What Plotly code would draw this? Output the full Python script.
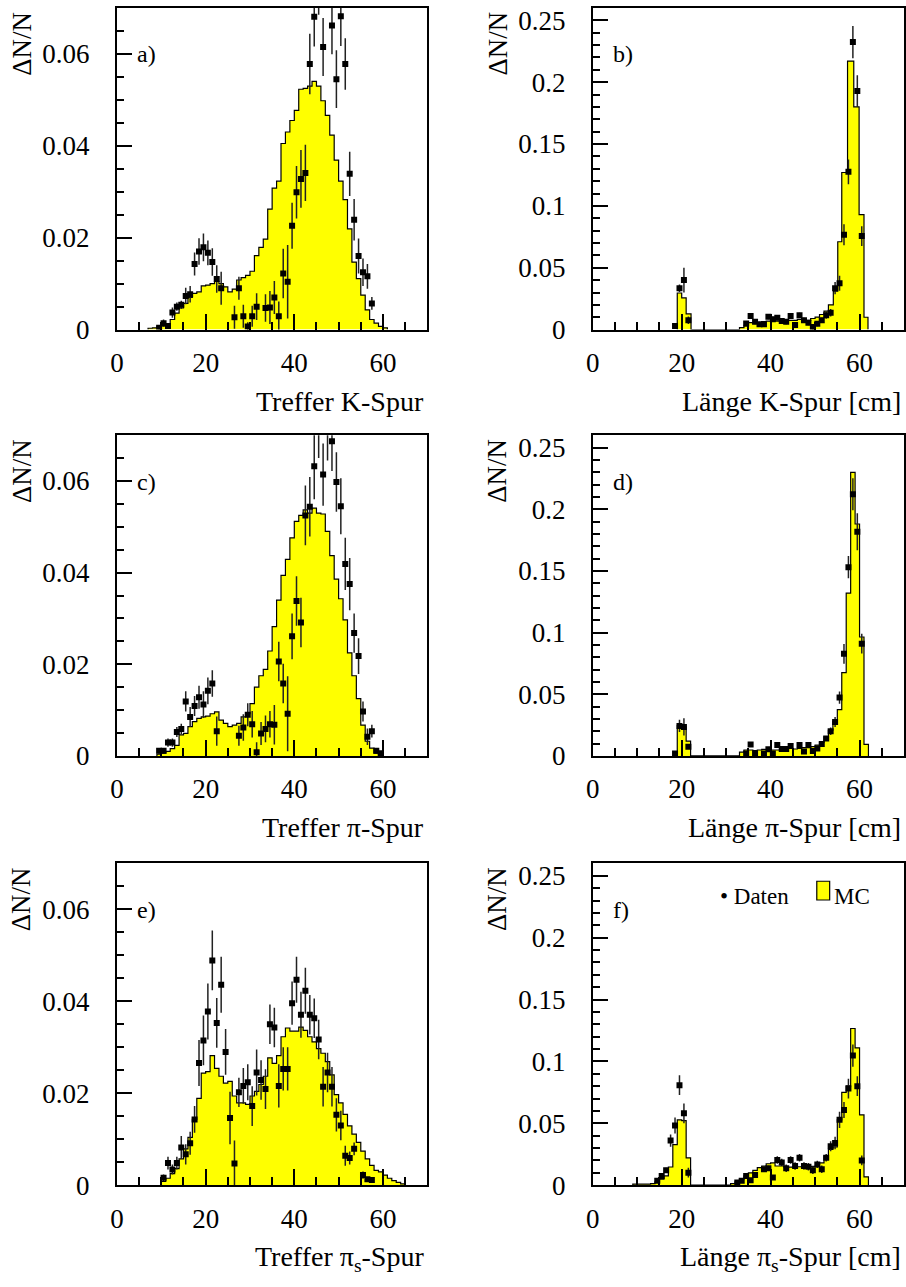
import numpy as np
import plotly.graph_objects as go

# ---------------- data ----------------
# a) Treffer K-Spur
a_mc_start = 7
a_mc = [0.0003, 0.0004, 0.0006, 0.0008, 0.0011, 0.0022, 0.0036, 0.0047, 0.0057, 0.0070,
        0.0079, 0.0082, 0.0095, 0.0097, 0.0100, 0.0105, 0.0100, 0.0093, 0.0082, 0.0088,
        0.0108, 0.0113, 0.0118, 0.0127, 0.0161, 0.0179, 0.0197, 0.0262, 0.0308, 0.0323,
        0.0405, 0.0430, 0.0455, 0.0477, 0.0523, 0.0525, 0.0530, 0.0540, 0.0530, 0.0498,
        0.0466, 0.0423, 0.0369, 0.0323, 0.0283, 0.0219, 0.0147, 0.0111, 0.0075, 0.0043,
        0.0022, 0.0014, 0.0007, 0.0004]
a_x = [9.5, 10.5, 11.5, 12.5, 13.5, 14.5, 15.5, 16.5, 17.5, 18.5, 19.5, 20.5, 21.5, 22.5, 23.5,
       26.5, 27.5, 28.5, 29.5, 30.5, 31.5, 33.5, 34.5, 35.5, 36.5, 37.5, 38.5, 39.5, 40.5, 41.5,
       42.5, 43.5, 44.5, 45.5, 46.5, 48.5, 49.5, 50.5, 51.5, 52.5, 53.5, 54.5, 55.5, 56.5, 57.5]
a_y = [0.0004, 0.0014, 0.0008, 0.0037, 0.0050, 0.0054, 0.0073, 0.0077, 0.0143, 0.0170, 0.0179,
       0.0167, 0.0147, 0.0110, 0.0090, 0.0027, 0.0090, 0.0029, 0.0007, 0.0029, 0.0050, 0.0047,
       0.0048, 0.0070, 0.0029, 0.0122, 0.0104, 0.0226, 0.0299, 0.0328, 0.0341, 0.0578, 0.0681,
       0.0750, 0.0615, 0.0662, 0.0545, 0.0682, 0.0578, 0.0339, 0.0239, 0.0160, 0.0125, 0.0116,
       0.0057]
a_err = [0.0004, 0.0008, 0.0006, 0.0011, 0.0009, 0.0009, 0.0018, 0.0018, 0.0025, 0.0029, 0.0030,
         0.0027, 0.0030, 0.0030, 0.0036, 0.0025, 0.0025, 0.0025, 0.0009, 0.0023, 0.0029, 0.0030,
         0.0036, 0.0036, 0.0032, 0.0054, 0.0080, 0.0050, 0.0057, 0.0063, 0.0061, 0.0066, 0.0065,
         0.0065, 0.0063, 0.0063, 0.0063, 0.0065, 0.0056, 0.0048, 0.0045, 0.0038, 0.0030, 0.0027,
         0.0014]

# b) Laenge K-Spur
b_mc_edges = [19, 20, 21, 22.1] + list(range(33, 53)) + [53, 54.1, 55.1, 56.0, 57.3, 58.7, 59.9, 61.0, 61.9]
b_mc = [0.0296, 0.0256, 0.0128, 0.0,
        0.0016, 0.0030, 0.0056, 0.0056, 0.0056, 0.0064, 0.0069, 0.0075, 0.0069, 0.0064,
        0.0069, 0.0075, 0.0075, 0.0083, 0.0083, 0.0075, 0.0090, 0.0101, 0.0122, 0.0149,
        0.020, 0.031, 0.071, 0.127, 0.217, 0.180, 0.093, 0.010]
b_x = [18.5, 19.5, 20.5, 21.5, 34.5, 35.5, 36.5, 37.5, 38.5, 39.5, 40.5, 41.5, 42.5, 43.5, 44.5,
       45.5, 46.5, 47.5, 48.5, 49.5, 50.5, 51.5, 52.5, 53.5, 54.5, 55.5, 56.5, 57.5, 58.5, 59.5, 60.5]
b_y = [0.003, 0.0335, 0.040, 0.0075, 0.005, 0.011, 0.0064, 0.0043, 0.0043, 0.0104, 0.0083, 0.0096,
       0.0069, 0.0064, 0.011, 0.0037, 0.0117, 0.0075, 0.0056, 0.0021, 0.0048, 0.0075, 0.0117,
       0.0136, 0.0335, 0.0375, 0.0767, 0.1275, 0.2324, 0.1928, 0.0756]
b_err = [0.001, 0.003, 0.010, 0.003, 0.002, 0.002, 0.002, 0.002, 0.002, 0.002, 0.002, 0.002,
         0.002, 0.002, 0.002, 0.002, 0.002, 0.002, 0.002, 0.002, 0.002, 0.002, 0.003, 0.003,
         0.005, 0.006, 0.0085, 0.010, 0.013, 0.0128, 0.008]

# c) Treffer pi-Spur
c_mc_start = 9
c_mc = [0.0004, 0.0006, 0.0010, 0.0016, 0.0023, 0.0046, 0.0049, 0.0064, 0.0075, 0.0082,
        0.0085, 0.0087, 0.0092, 0.0096, 0.0078, 0.0071, 0.0064, 0.0067, 0.0071, 0.0085,
        0.0092, 0.0114, 0.0150, 0.0175, 0.0189, 0.0229, 0.0282, 0.0340, 0.0394, 0.0429,
        0.0476, 0.0512, 0.0525, 0.0537, 0.0530, 0.0541, 0.0530, 0.0528, 0.0490, 0.0437,
        0.0386, 0.0343, 0.0297, 0.0225, 0.0175, 0.0125, 0.0067, 0.0032, 0.0017, 0.0006,
        0.0003]
c_x = [9.5, 10.5, 11.5, 12.5, 13.5, 14.5, 15.5, 16.5, 17.5, 18.5, 19.5, 20.5, 21.5, 22.5,
       27.5, 28.5, 29.5, 30.5, 31.5, 32.5, 33.5, 34.5, 35.5, 36.5, 37.5, 38.5, 39.5, 40.5,
       41.5, 42.5, 43.5, 44.5, 45.5, 46.5, 47.5, 48.5, 49.5, 50.5, 51.5, 52.5, 53.5, 54.5,
       55.5, 56.5, 57.5, 58.5, 59.5]
c_y = [0.0011, 0.0011, 0.0029, 0.0029, 0.0052, 0.0059, 0.0119, 0.0085, 0.0109, 0.0128, 0.0112,
       0.0142, 0.0158, 0.0054, 0.0044, 0.0062, 0.0090, 0.0069, 0.0008, 0.0049, 0.0059, 0.0069,
       0.0068, 0.0206, 0.0158, 0.0092, 0.0261, 0.0338, 0.0291, 0.0525, 0.0544, 0.0632, 0.0725,
       0.0614, 0.0720, 0.0687, 0.0598, 0.0545, 0.0419, 0.0375, 0.0268, 0.0218, 0.0097, 0.0042,
       0.0054, 0.0011, 0.0006]
c_err = [0.0006, 0.0006, 0.0009, 0.0009, 0.0011, 0.0011, 0.0022, 0.0022, 0.0022, 0.0025, 0.0029,
         0.0029, 0.0029, 0.0032, 0.0022, 0.0029, 0.0025, 0.0029, 0.0022, 0.0025, 0.0029, 0.0029,
         0.0043, 0.0043, 0.0043, 0.0082, 0.0050, 0.0054, 0.0054, 0.0065, 0.0065, 0.0072, 0.0075,
         0.0068, 0.0075, 0.0065, 0.0065, 0.0061, 0.0057, 0.0057, 0.0043, 0.0039, 0.0022, 0.0018,
         0.0014, 0.0006, 0.0004]

# d) Laenge pi-Spur
d_mc_edges = [19, 20, 21, 22] + list(range(33, 63))
d_mc = [0.0248, 0.0235, 0.0120, 0.0,
        0.0030, 0.0048, 0.0048, 0.0043, 0.0048, 0.0053, 0.0053, 0.0048, 0.0048, 0.0053,
        0.0053, 0.0061, 0.0056, 0.0061, 0.0067, 0.0067, 0.0075, 0.0088, 0.0110, 0.0155,
        0.0208, 0.0280, 0.0376, 0.0675, 0.1320, 0.2298, 0.1880, 0.0964, 0.0093]
d_x = [18.5, 19.5, 20.5, 21.5, 34.5, 35.5, 36.5, 38.5, 39.5, 40.5, 41.5, 42.5, 43.5, 44.5, 46.5,
       47.5, 48.5, 49.5, 50.5, 51.5, 52.5, 53.5, 54.5, 55.5, 56.5, 57.5, 58.5, 59.5, 60.5]
d_y = [0.002, 0.0243, 0.0235, 0.0075, 0.002, 0.0093, 0.002, 0.002, 0.0053, 0.002, 0.0088, 0.0056,
       0.0056, 0.008, 0.0088, 0.0035, 0.0088, 0.004, 0.0061, 0.0096, 0.0141, 0.020, 0.0275,
       0.0473, 0.0828, 0.153, 0.2122, 0.1818, 0.091]
d_err = [0.001, 0.005, 0.007, 0.002, 0.001, 0.002, 0.001, 0.001, 0.002, 0.001, 0.002, 0.002,
         0.002, 0.002, 0.002, 0.001, 0.002, 0.001, 0.002, 0.002, 0.002, 0.003, 0.004, 0.005,
         0.008, 0.009, 0.013, 0.015, 0.008]

# e) Treffer pi_s-Spur
e_mc_start = 10
e_mc = [0.0008, 0.0015, 0.0025, 0.0036, 0.0057, 0.0079, 0.0104, 0.0143, 0.0189, 0.0244,
        0.0247, 0.0282, 0.0254, 0.0237, 0.0222, 0.0226, 0.0194, 0.0179, 0.0179, 0.0176,
        0.0194, 0.0204, 0.0219, 0.0237, 0.0277, 0.0265, 0.0282, 0.0323, 0.0342, 0.0335,
        0.0335, 0.0344, 0.0337, 0.0323, 0.0312, 0.0297, 0.0287, 0.0269, 0.0240, 0.0197,
        0.0179, 0.0154, 0.0129, 0.0111, 0.0093, 0.0074, 0.0057, 0.0043, 0.0032, 0.0029,
        0.0022, 0.0015, 0.0010, 0.0006, 0.0003]
e_x = [10.5, 11.5, 12.5, 13.5, 14.5, 15.5, 16.5, 17.5, 18.5, 19.5, 20.5, 21.5, 22.5, 23.5, 24.5,
       25.5, 26.5, 27.5, 28.5, 29.5, 30.5, 31.5, 32.5, 33.5, 34.5, 35.5, 36.5, 37.5, 38.5, 39.5,
       40.5, 41.5, 42.5, 43.5, 44.5, 45.5, 46.5, 47.5, 48.5, 49.5, 50.5, 51.5, 52.5, 53.5, 55.5,
       56.5, 57.5]
e_y = [0.0016, 0.0048, 0.0034, 0.0048, 0.0082, 0.0067, 0.0091, 0.0143, 0.0266, 0.0315, 0.0378,
       0.0489, 0.0353, 0.0436, 0.0290, 0.0146, 0.0047, 0.0202, 0.0216, 0.0224, 0.0172, 0.0245,
       0.0229, 0.0209, 0.0350, 0.0343, 0.0216, 0.0253, 0.0253, 0.0396, 0.0447, 0.0371, 0.0423,
       0.0371, 0.0363, 0.0317, 0.0214, 0.0245, 0.0214, 0.0153, 0.0130, 0.0064, 0.0059, 0.0079,
       0.0022, 0.0013, 0.0011]
e_err = [0.0007, 0.0014, 0.0011, 0.0014, 0.0025, 0.0022, 0.0025, 0.0029, 0.0050, 0.0054, 0.0061,
         0.0065, 0.0054, 0.0061, 0.0050, 0.0057, 0.0050, 0.0032, 0.0039, 0.0039, 0.0043, 0.0050,
         0.0043, 0.0043, 0.0043, 0.0043, 0.0047, 0.0047, 0.0047, 0.0047, 0.0050, 0.0050, 0.0050,
         0.0043, 0.0043, 0.0043, 0.0043, 0.0043, 0.0043, 0.0036, 0.0032, 0.0022, 0.0014, 0.0014,
         0.0008, 0.0005, 0.0004]

# f) Laenge pi_s-Spur
f_mc_edges = list(range(9, 23)) + list(range(31, 63))
f_mc = [0.0008, 0.0008, 0.0008, 0.0008, 0.0013, 0.0027, 0.0048, 0.0075, 0.0147, 0.0328,
        0.0528, 0.0522, 0.0221, 0.0,
        0.0013, 0.0027, 0.0048, 0.0075, 0.0100, 0.0120, 0.0141, 0.0155, 0.0173, 0.0180,
        0.0155, 0.0155, 0.0146, 0.0146, 0.0149, 0.0149, 0.0149, 0.0149, 0.0152, 0.0155,
        0.0180, 0.0235, 0.0290, 0.0310, 0.0528, 0.0750, 0.0802, 0.1266, 0.1110, 0.0568,
        0.0067]
f_x = [14.5, 15.5, 16.5, 17.5, 18.5, 19.5, 20.5, 21.5, 32.5, 33.5, 34.5, 35.5, 36.5, 38.5, 39.5,
       40.5, 41.5, 42.5, 43.5, 44.5, 45.5, 46.5, 47.5, 48.5, 49.5, 50.5, 51.5, 52.5, 53.5, 54.5,
       55.5, 56.5, 57.5, 58.5, 59.5, 60.5]
f_y = [0.0035, 0.0075, 0.012, 0.036, 0.0482, 0.0808, 0.0581, 0.0101, 0.0021, 0.0035, 0.0075,
       0.004, 0.0083, 0.0128, 0.0136, 0.0061, 0.0203, 0.0184, 0.0136, 0.0203, 0.0155, 0.0221,
       0.0155, 0.0149, 0.012, 0.0168, 0.0128, 0.0221, 0.0315, 0.0341, 0.0528, 0.0608, 0.0781,
       0.1047, 0.080, 0.020]
f_err = [0.001, 0.0015, 0.002, 0.005, 0.0065, 0.008, 0.008, 0.004, 0.001, 0.001, 0.0015, 0.0015,
         0.002, 0.002, 0.002, 0.002, 0.003, 0.003, 0.003, 0.003, 0.003, 0.003, 0.003, 0.003,
         0.003, 0.003, 0.003, 0.003, 0.004, 0.005, 0.0065, 0.0065, 0.008, 0.009, 0.008, 0.004]

x_tick_vals = [0, 20, 40, 60]
x_tick_text = ["0", "20", "40", "60"]
yl_tick_vals = [0, 0.02, 0.04, 0.06]
yl_tick_text = ["0", "0.02", "0.04", "0.06"]
yr_tick_vals = [0, 0.05, 0.1, 0.15, 0.2, 0.25]
yr_tick_text = ["0", "0.05", "0.1", "0.15", "0.2", "0.25"]

panel_labels = ["a)", "b)", "c)", "d)", "e)", "f)"]
x_titles = ["Treffer K-Spur", "Länge K-Spur [cm]",
            "Treffer π-Spur", "Länge π-Spur [cm]",
            "Treffer π<sub>s</sub>-Spur", "Länge π<sub>s</sub>-Spur [cm]"]
y_title = "ΔN/N"

# ---------------- figure ----------------
W, H = 906, 1287
FONT = "Liberation Serif"
YELLOW = "#ffff00"

def reg_edges(start, vals):
    return list(start + np.arange(len(vals) + 1))

panels = [
    (reg_edges(a_mc_start, a_mc), a_mc, a_x, a_y, a_err),
    (b_mc_edges, b_mc, b_x, b_y, b_err),
    (reg_edges(c_mc_start, c_mc), c_mc, c_x, c_y, c_err),
    (d_mc_edges, d_mc, d_x, d_y, d_err),
    (reg_edges(e_mc_start, e_mc), e_mc, e_x, e_y, e_err),
    (f_mc_edges, f_mc, f_x, f_y, f_err),
]

col_px = [(111, 424), (591, 905)]
row_px = [(6, 332), (439, 764), (873, 1199)]

fig = go.Figure()
layout = dict(width=W, height=H, margin=dict(l=0, r=0, t=0, b=0),
              paper_bgcolor="white", plot_bgcolor="white", showlegend=False,
              font=dict(family=FONT, color="black"))
annotations = []
shapes = []

for i, (edges, vals, dx, dy, derr) in enumerate(panels):
    n = i + 1
    r, c = divmod(i, 2)
    xs = "x" if n == 1 else f"x{n}"
    ys = "y" if n == 1 else f"y{n}"
    xk = "xaxis" if n == 1 else f"xaxis{n}"
    yk = "yaxis" if n == 1 else f"yaxis{n}"

    hx = [edges[0]] + list(edges) + [edges[-1]]
    hy = [0] + list(vals) + [vals[-1], 0]
    fig.add_trace(go.Scatter(x=hx, y=hy, mode="lines", line_shape="hv",
                             line=dict(color="black", width=1.2),
                             fill="tozeroy", fillcolor=YELLOW,
                             xaxis=xs, yaxis=ys, name="MC", hoverinfo="skip"))
    fig.add_trace(go.Scatter(x=dx, y=dy, mode="markers",
                             marker=dict(symbol="square", size=6, color="black"),
                             error_y=dict(type="data", array=derr, visible=True,
                                          color="#222", thickness=1.5, width=0),
                             xaxis=xs, yaxis=ys, name="Daten"))

    x0, x1 = col_px[c]
    y0, y1 = row_px[r]
    right = (c == 1)
    layout[xk] = dict(domain=[x0 / W, x1 / W], anchor=ys, range=[0, 70],
                      showline=True, linecolor="black", linewidth=2, mirror=True,
                      ticks="inside", ticklen=16, tickwidth=2, tickcolor="black",
                      tickmode="array", tickvals=x_tick_vals, ticktext=x_tick_text,
                      tickfont=dict(family=FONT, size=27, color="black"),
                      ticklabelstandoff=8,
                      minor=dict(ticks="inside", ticklen=8, tickwidth=2, tickcolor="black",
                                 tickmode="linear", tick0=0, dtick=5),
                      showgrid=False, zeroline=False, fixedrange=True)
    layout[yk] = dict(domain=[1 - y1 / H, 1 - y0 / H], anchor=xs,
                      range=[0, 0.26] if right else [0, 0.07],
                      showline=True, linecolor="black", linewidth=2, mirror=True,
                      ticks="inside", ticklen=15, tickwidth=2, tickcolor="black",
                      tickmode="array",
                      tickvals=yr_tick_vals if right else yl_tick_vals,
                      ticktext=yr_tick_text if right else yl_tick_text,
                      tickfont=dict(family=FONT, size=27, color="black"),
                      ticklabelstandoff=20,
                      minor=dict(ticks="inside", ticklen=7, tickwidth=2, tickcolor="black",
                                 tickmode="linear", tick0=0,
                                 dtick=0.01 if right else 0.005),
                      showgrid=False, zeroline=False, fixedrange=True)

    # panel label
    annotations.append(dict(text=panel_labels[i], xref="paper", yref="paper",
                            x=(x0 + 18) / W, y=1 - (y0 + 47) / H,
                            xanchor="left", yanchor="middle", showarrow=False,
                            font=dict(family=FONT, size=24, color="black")))
    # y title
    annotations.append(dict(text=y_title, xref="paper", yref="paper",
                            x=(x0 - 96) / W, y=1 - (y0 + 2) / H,
                            xanchor="center", yanchor="top", textangle=-90,
                            showarrow=False,
                            font=dict(family=FONT, size=27, color="black")))
    # x title
    annotations.append(dict(text=x_titles[i], xref="paper", yref="paper",
                            x=(x1 - 1) / W, y=1 - (y1 + 55) / H,
                            xanchor="right", yanchor="top", showarrow=False,
                            font=dict(family=FONT, size=28, color="black")))

# legend in panel f
annotations.append(dict(text="• Daten", xref="paper", yref="paper",
                        x=717 / W, y=1 - 906 / H, xanchor="left", yanchor="middle",
                        showarrow=False, font=dict(family=FONT, size=23, color="black")))
annotations.append(dict(text="MC", xref="paper", yref="paper",
                        x=832 / W, y=1 - 906 / H, xanchor="left", yanchor="middle",
                        showarrow=False, font=dict(family=FONT, size=23, color="black")))
shapes.append(dict(type="rect", xref="paper", yref="paper",
                   x0=817 / W, x1=830 / W, y0=1 - 910 / H, y1=1 - 891 / H,
                   fillcolor=YELLOW, line=dict(color="black", width=1.2)))

layout["annotations"] = annotations
layout["shapes"] = shapes
fig.update_layout(**layout)
fig.write_html("out.html")
